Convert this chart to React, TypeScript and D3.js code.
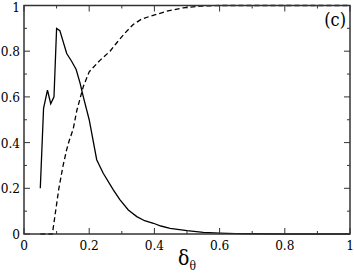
import React from "react";
import * as d3 from "d3";

// solid curve
const solidX = [0.05, 0.06, 0.072, 0.082, 0.092, 0.1, 0.11, 0.131, 0.146, 0.16, 0.172, 0.182, 0.2, 0.223, 0.243, 0.274, 0.294, 0.32, 0.346, 0.37, 0.397, 0.42, 0.448, 0.5, 0.55, 0.6, 0.65, 0.7, 0.8, 0.9, 1.0];
const solidY = [0.2, 0.55, 0.63, 0.57, 0.6, 0.9, 0.89, 0.79, 0.756, 0.72, 0.66, 0.6, 0.5, 0.325, 0.266, 0.193, 0.15, 0.105, 0.076, 0.058, 0.047, 0.035, 0.025, 0.015, 0.007, 0.004, 0.002, 0.001, 0, 0, 0];

// dashed curve
const dashX = [0.05, 0.08, 0.087, 0.095, 0.107, 0.12, 0.131, 0.139, 0.151, 0.162, 0.182, 0.2, 0.233, 0.264, 0.284, 0.31, 0.335, 0.36, 0.387, 0.438, 0.489, 0.54, 0.6, 0.7, 0.8, 0.9, 1.0];
const dashY = [0, 0, 0, 0.08, 0.2, 0.3, 0.37, 0.41, 0.46, 0.54, 0.646, 0.71, 0.76, 0.8, 0.836, 0.88, 0.917, 0.94, 0.953, 0.975, 0.99, 0.997, 1, 1, 1, 1, 1];

const majorTicks = [0, 0.2, 0.4, 0.6, 0.8, 1];
const tickLabels = ["0", "0.2", "0.4", "0.6", "0.8", "1"];
const minorTicks = [0.1, 0.3, 0.5, 0.7, 0.9];

const W = 354;
const H = 273;
const left = 24, right = 350, top = 5.5, bottom = 234;

export default function App() {
  const x = d3.scaleLinear().domain([0, 1]).range([left, right]);
  const y = d3.scaleLinear().domain([0, 1]).range([bottom, top]);
  const line = d3.line<[number, number]>().x((d) => x(d[0])).y((d) => y(d[1]));
  const solid = solidX.map((v, i) => [v, solidY[i]] as [number, number]);
  const dashed = dashX.map((v, i) => [v, dashY[i]] as [number, number]);
  const serif = "DejaVu Serif Condensed, DejaVu Serif";
  const axisColor = "#333";

  return (
    <svg width={W} height={H} style={{ position: "absolute", left: 0, top: 0, background: "#fff" }}>
      <path d={line(solid) ?? ""} fill="none" stroke="#000" strokeWidth={1.3} />
      <path d={line(dashed) ?? ""} fill="none" stroke="#000" strokeWidth={1.3} strokeDasharray="5,3" />

      {/* ticks on all four sides, pointing in */}
      {majorTicks.map((t) => (
        <g key={"M" + t} stroke={axisColor} strokeWidth={1}>
          <line x1={x(t)} x2={x(t)} y1={bottom} y2={bottom - 6} />
          <line x1={x(t)} x2={x(t)} y1={top} y2={top + 6} />
          <line x1={left} x2={left + 6} y1={y(t)} y2={y(t)} />
          <line x1={right} x2={right - 6} y1={y(t)} y2={y(t)} />
        </g>
      ))}
      {minorTicks.map((t) => (
        <g key={"m" + t} stroke={axisColor} strokeWidth={1}>
          <line x1={x(t)} x2={x(t)} y1={bottom} y2={bottom - 3} />
          <line x1={x(t)} x2={x(t)} y1={top} y2={top + 3} />
          <line x1={left} x2={left + 3} y1={y(t)} y2={y(t)} />
          <line x1={right} x2={right - 3} y1={y(t)} y2={y(t)} />
        </g>
      ))}

      <rect x={left} y={top} width={right - left} height={bottom - top} fill="none" stroke={axisColor} strokeWidth={1.5} />

      <g fontFamily={serif} fill="#000">
        {majorTicks.map((t, i) => (
          <text key={"xl" + t} x={x(t)} y={249.5} fontSize={13.5} textAnchor="middle">
            {tickLabels[i]}
          </text>
        ))}
        {majorTicks.map((t, i) => (
          <text key={"yl" + t} x={20} y={Math.max(y(t) + 5, 12)} fontSize={13.5} textAnchor="end">
            {tickLabels[i]}
          </text>
        ))}
        <text x={346} y={26} fontSize={18} textAnchor="end">(c)</text>
        <text x={178} y={265} fontSize={21}>
          δ<tspan fontSize={12} dy={5}>θ</tspan>
        </text>
      </g>
    </svg>
  );
}
